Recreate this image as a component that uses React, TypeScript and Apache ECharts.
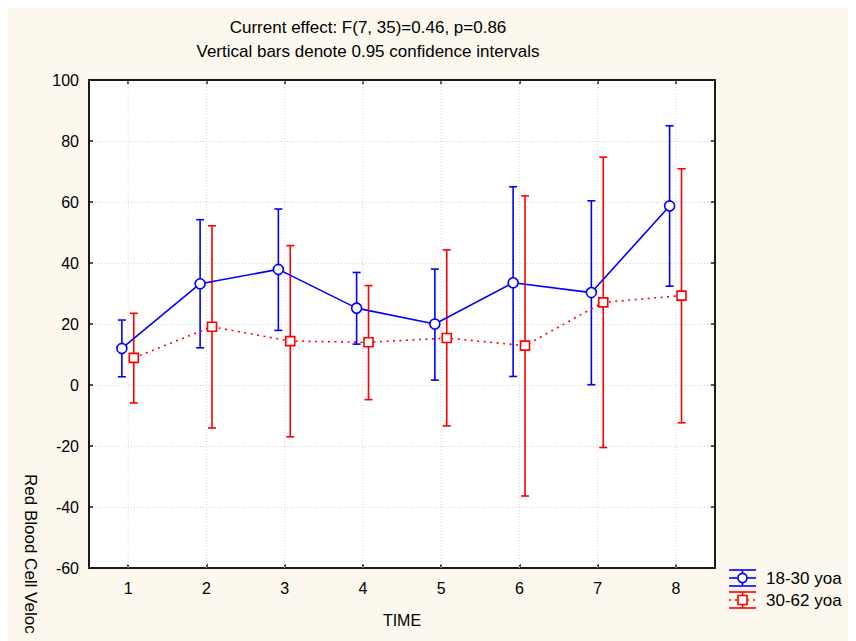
import React, { useEffect, useRef } from "react";
import * as echarts from "echarts";

// TIME points on the x axis
const timeLabels = ["1", "2", "3", "4", "5", "6", "7", "8"];
const timeValues = [1, 2, 3, 4, 5, 6, 7, 8];

// 18-30 yoa group: means and 0.95 confidence limits
const youngMean = [12.0, 33.2, 37.9, 25.2, 20.0, 33.5, 30.3, 58.7];
const youngLow = [2.7, 12.2, 17.9, 13.4, 1.6, 2.8, 0.1, 32.4];
const youngHigh = [21.3, 54.2, 57.7, 36.9, 38.0, 65.0, 60.4, 85.0];

// 30-62 yoa group: means and 0.95 confidence limits
const olderMean = [8.9, 19.1, 14.4, 14.0, 15.4, 12.9, 27.1, 29.3];
const olderLow = [-5.9, -14.1, -17.0, -4.8, -13.4, -36.4, -20.5, -12.4];
const olderHigh = [23.5, 52.2, 45.7, 32.6, 44.3, 62.0, 74.7, 70.9];

const yTicks = { min: -60, max: 100, step: 20 };

const titleLines = [
  "Current effect: F(7, 35)=0.46, p=0.86",
  "Vertical bars denote 0.95 confidence intervals",
];
const yAxisTitle = "Red Blood Cell Veloc";
const xAxisTitle = "TIME";
const legendNames = ["18-30 yoa", "30-62 yoa"];

const FONT = "'Liberation Sans', Arial, Helvetica, sans-serif";
const BLUE = "#0000ff";
const RED = "#ff0000";
const AXIS = "#1a1a1a";
const GRID = "#d4d4d4";
const BLUE_DODGE = -0.08;
const RED_DODGE = 0.072;

function errorBarSeries(name: string, xs: number[], lo: number[], hi: number[], color: string) {
  return {
    type: "custom",
    name,
    xAxisIndex: 2,
    yAxisIndex: 0,
    data: xs.map((x, i) => [x, lo[i], hi[i]]),
    encode: { x: 0, y: [1, 2] },
    renderItem: (_params: any, api: any) => {
      const x = api.value(0);
      const a = api.coord([x, api.value(1)]);
      const b = api.coord([x, api.value(2)]);
      const half = 4;
      const style = { stroke: color, lineWidth: 1.6 };
      return {
        type: "group",
        children: [
          { type: "line", shape: { x1: a[0], y1: a[1], x2: b[0], y2: b[1] }, style },
          { type: "line", shape: { x1: a[0] - half, y1: a[1], x2: a[0] + half, y2: a[1] }, style },
          { type: "line", shape: { x1: b[0] - half, y1: b[1], x2: b[0] + half, y2: b[1] }, style },
        ],
      };
    },
  };
}

export default function App() {
  const ref = useRef<HTMLDivElement>(null);

  useEffect(() => {
    if (!ref.current) return;
    const chart = echarts.init(ref.current, null, { renderer: "svg" });

    const youngX = timeValues.map((v) => v + BLUE_DODGE);
    const olderX = timeValues.map((v) => v + RED_DODGE);

    const catAxis = (position: "top" | "bottom", labels: boolean) => ({
      type: "category",
      data: timeLabels,
      position,
      boundaryGap: true,
      axisLine: { show: true, onZero: false, lineStyle: { color: AXIS, width: 2 } },
      axisTick: { show: true, inside: true, alignWithLabel: true, length: 4, lineStyle: { color: AXIS, width: 1.5 } },
      axisLabel: { show: labels, fontSize: 16, color: "#000", margin: 12, fontFamily: FONT },
      splitLine: { show: false },
    });

    const valAxis = (position: "left" | "right", labels: boolean) => ({
      type: "value",
      position,
      min: yTicks.min,
      max: yTicks.max,
      interval: yTicks.step,
      axisLine: { show: true, onZero: false, lineStyle: { color: AXIS, width: 2 } },
      axisTick: { show: true, inside: true, length: 4, lineStyle: { color: AXIS, width: 1.5 } },
      axisLabel: { show: labels, fontSize: 16, color: "#000", margin: 10, fontFamily: FONT },
      splitLine: { show: labels, lineStyle: { color: GRID, type: [1, 2], width: 1 } },
    });

    const legendX0 = 721;
    const legendX1 = 748;
    const legendCx = (legendX0 + legendX1) / 2;
    const rowBlue = 570;
    const rowRed = 592;

    const option: any = {
      animation: false,
      grid: { left: 81, top: 72, width: 626, height: 488, show: true, backgroundColor: "#ffffff", borderWidth: 0 },
      xAxis: [
        catAxis("bottom", true),
        catAxis("top", false),
        { type: "value", min: 0.5, max: 8.5, show: false },
      ],
      yAxis: [valAxis("left", true), valAxis("right", false)],
      series: [
        {
          type: "custom",
          name: "time grid",
          xAxisIndex: 2,
          yAxisIndex: 0,
          silent: true,
          z: 1,
          data: timeValues.map((v) => [v, yTicks.min, yTicks.max]),
          encode: { x: 0, y: [1, 2] },
          renderItem: (_p: any, api: any) => {
            const a = api.coord([api.value(0), api.value(1)]);
            const b = api.coord([api.value(0), api.value(2)]);
            return {
              type: "line",
              shape: { x1: a[0], y1: a[1], x2: b[0], y2: b[1] },
              style: { stroke: GRID, lineWidth: 1, lineDash: [1, 2] },
            };
          },
        },
        errorBarSeries("30-62 bars", olderX, olderLow, olderHigh, RED),
        {
          type: "line",
          name: legendNames[1],
          xAxisIndex: 2,
          yAxisIndex: 0,
          data: olderX.map((x, i) => [x, olderMean[i]]),
          symbol: "rect",
          symbolSize: 9,
          lineStyle: { color: RED, width: 1.6, type: [2, 4.5] },
          itemStyle: { color: "#ffffff", borderColor: RED, borderWidth: 1.6 },
        },
        errorBarSeries("18-30 bars", youngX, youngLow, youngHigh, BLUE),
        {
          type: "line",
          name: legendNames[0],
          xAxisIndex: 2,
          yAxisIndex: 0,
          data: youngX.map((x, i) => [x, youngMean[i]]),
          symbol: "circle",
          symbolSize: 10,
          lineStyle: { color: BLUE, width: 1.6 },
          itemStyle: { color: "#ffffff", borderColor: BLUE, borderWidth: 1.6 },
        },
      ],
      graphic: [
        {
          type: "text",
          x: 360,
          y: 19,
          style: { text: titleLines[0], font: `17px ${FONT}`, fill: "#000", align: "center", verticalAlign: "middle" },
        },
        {
          type: "text",
          x: 360,
          y: 43,
          style: { text: titleLines[1], font: `17px ${FONT}`, fill: "#000", align: "center", verticalAlign: "middle" },
        },
        {
          type: "text",
          x: 394,
          y: 612,
          style: { text: xAxisTitle, font: `16px ${FONT}`, fill: "#000", align: "center", verticalAlign: "middle" },
        },
        {
          type: "text",
          x: 22,
          y: 466,
          rotation: -Math.PI / 2,
          style: { text: yAxisTitle, font: `17px ${FONT}`, fill: "#000", align: "left", verticalAlign: "middle" },
        },
        // legend: 18-30 yoa
        { type: "line", shape: { x1: legendX0, y1: rowBlue - 8, x2: legendX1, y2: rowBlue - 8 }, style: { stroke: BLUE, lineWidth: 1.6 } },
        { type: "line", shape: { x1: legendX0, y1: rowBlue + 8, x2: legendX1, y2: rowBlue + 8 }, style: { stroke: BLUE, lineWidth: 1.6 } },
        { type: "line", shape: { x1: legendCx, y1: rowBlue - 8, x2: legendCx, y2: rowBlue + 8 }, style: { stroke: BLUE, lineWidth: 1.6 } },
        { type: "line", shape: { x1: legendX0, y1: rowBlue, x2: legendX1, y2: rowBlue }, style: { stroke: BLUE, lineWidth: 1.6 } },
        { type: "circle", shape: { cx: legendCx, cy: rowBlue, r: 4.6 }, style: { fill: "#fff", stroke: BLUE, lineWidth: 1.6 } },
        {
          type: "text",
          x: 758,
          y: rowBlue,
          style: { text: legendNames[0], font: `17px ${FONT}`, fill: "#000", align: "left", verticalAlign: "middle" },
        },
        // legend: 30-62 yoa
        { type: "line", shape: { x1: legendX0, y1: rowRed - 8, x2: legendX1, y2: rowRed - 8 }, style: { stroke: RED, lineWidth: 1.6 } },
        { type: "line", shape: { x1: legendX0, y1: rowRed + 8, x2: legendX1, y2: rowRed + 8 }, style: { stroke: RED, lineWidth: 1.6 } },
        { type: "line", shape: { x1: legendCx, y1: rowRed - 8, x2: legendCx, y2: rowRed + 8 }, style: { stroke: RED, lineWidth: 1.6 } },
        { type: "line", shape: { x1: legendX0, y1: rowRed, x2: legendX1, y2: rowRed }, style: { stroke: RED, lineWidth: 1.6, lineDash: [2, 4] } },
        { type: "rect", shape: { x: legendCx - 4.5, y: rowRed - 4.5, width: 9, height: 9 }, style: { fill: "#fff", stroke: RED, lineWidth: 1.6 } },
        {
          type: "text",
          x: 758,
          y: rowRed,
          style: { text: legendNames[1], font: `17px ${FONT}`, fill: "#000", align: "left", verticalAlign: "middle" },
        },
      ],
    };

    chart.setOption(option);
    return () => chart.dispose();
  }, []);

  return <div ref={ref} style={{ width: 848, height: 633, background: "#fcf8ee" }} />;
}
